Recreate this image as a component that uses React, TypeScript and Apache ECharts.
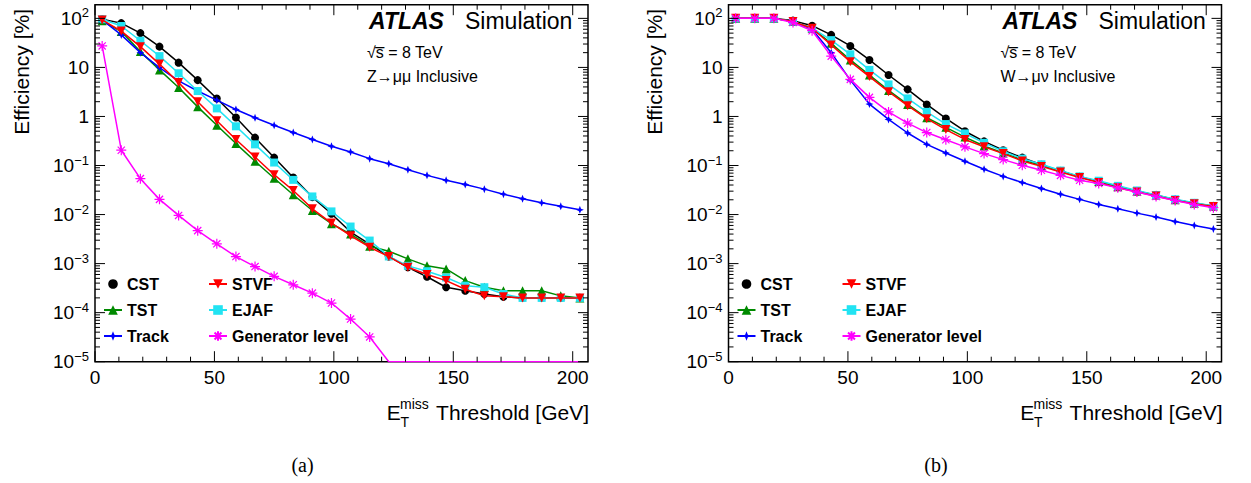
import React, { useEffect, useRef } from 'react';
import * as echarts from 'echarts';

// ---------- data ----------
const THRESHOLDS = [3, 11, 19, 27, 35, 43, 51, 59, 67, 75, 83, 91, 99, 107, 115, 123, 131, 139, 147, 155, 163, 171, 179, 187, 195, 203];

// (a) Z -> mumu inclusive
const CST_Z = [96, 80, 50, 26.5, 12.5, 5.5, 2.33, 0.95, 0.37, 0.145, 0.057, 0.0227, 0.0104, 0.0044, 0.0025, 0.0014, 0.00084, 0.00054, 0.00033, 0.00028, 0.00024, 0.00021, 0.0002, 0.0002, 0.0002, 0.0002];
const TST_Z = [89, 54, 21, 8.9, 3.9, 1.57, 0.66, 0.28, 0.122, 0.055, 0.0254, 0.0121, 0.0065, 0.004, 0.00226, 0.00179, 0.00125, 0.0009, 0.00078, 0.00045, 0.00033, 0.00028, 0.00028, 0.00028, 0.00022, 0.0002];
const TRACK_Z = [93, 46, 20, 9.9, 5.3, 3.3, 2.15, 1.39, 0.94, 0.66, 0.47, 0.34, 0.247, 0.189, 0.138, 0.109, 0.082, 0.063, 0.05, 0.041, 0.033, 0.026, 0.021, 0.0174, 0.0147, 0.0125];
const EJAF_Z = [96, 70, 35, 17, 7.6, 3.3, 1.46, 0.63, 0.27, 0.115, 0.051, 0.0234, 0.0116, 0.0057, 0.00295, 0.0014, 0.0009, 0.0007, 0.00052, 0.000355, 0.00033, 0.00024, 0.0002, 0.0002, 0.0002, 0.0002];
const STVF_Z = [93, 55, 26.5, 11.7, 4.9, 2.0, 0.82, 0.34, 0.149, 0.065, 0.031, 0.0131, 0.0067, 0.0037, 0.00216, 0.00139, 0.00084, 0.0006, 0.00045, 0.0003, 0.00022, 0.00021, 0.0002, 0.0002, 0.0002, 0.0002];
const GEN_Z = [27.4, 0.205, 0.054, 0.0204, 0.0096, 0.0047, 0.00253, 0.00139, 0.00087, 0.00055, 0.00037, 0.00025, 0.000157, 0.000074, 0.000032, 0, 0, 0, 0, 0, 0, 0, 0, 0, 0, 0];

// (b) W -> munu inclusive
const CST_W = [100, 100, 100, 90, 71, 46, 27.4, 14.2, 7.0, 3.57, 1.76, 0.91, 0.5, 0.31, 0.205, 0.145, 0.104, 0.077, 0.058, 0.0475, 0.0376, 0.03, 0.0246, 0.0201, 0.0171, 0.0146];
const TST_W = [100, 100, 100, 86, 63, 31, 14.2, 7.0, 3.4, 1.76, 0.94, 0.6, 0.38, 0.25, 0.18, 0.13, 0.1, 0.077, 0.059, 0.047, 0.037, 0.03, 0.025, 0.02, 0.017, 0.015];
const TRACK_W = [100, 100, 100, 86, 60, 20, 5.5, 1.79, 0.87, 0.46, 0.27, 0.18, 0.122, 0.084, 0.06, 0.045, 0.034, 0.026, 0.0204, 0.0161, 0.0131, 0.0107, 0.0089, 0.0072, 0.006, 0.0051];
const EJAF_W = [100, 100, 100, 86, 63, 36, 18.5, 8.9, 4.5, 2.33, 1.24, 0.7, 0.45, 0.29, 0.195, 0.138, 0.106, 0.079, 0.06, 0.049, 0.0385, 0.031, 0.025, 0.0205, 0.0174, 0.015];
const STVF_W = [100, 100, 100, 86, 63, 28.7, 13.1, 6.5, 3.2, 1.66, 0.9, 0.54, 0.34, 0.24, 0.175, 0.124, 0.096, 0.074, 0.057, 0.045, 0.035, 0.0287, 0.0238, 0.0194, 0.0166, 0.0146];
const GEN_W = [100, 100, 100, 82, 56, 17, 5.7, 2.45, 1.24, 0.73, 0.47, 0.335, 0.24, 0.175, 0.132, 0.101, 0.08, 0.063, 0.05, 0.043, 0.035, 0.0287, 0.0234, 0.0194, 0.016, 0.0138];

const SERIES_NAMES = ['CST', 'TST', 'Track', 'EJAF', 'STVF', 'Generator level'];
const PANEL_DATA = [
  [CST_Z, TST_Z, TRACK_Z, EJAF_Z, STVF_Z, GEN_Z],
  [CST_W, TST_W, TRACK_W, EJAF_W, STVF_W, GEN_W],
];
const PROCESS_LABELS = ['Z\u2192\u03bc\u03bc Inclusive', 'W\u2192\u03bc\u03bd Inclusive'];
const CAPTIONS = ['(a)', '(b)'];

// axis configuration
const X_MIN = 0;
const X_MAX = 206.4;
const Y_MIN = 1e-5;
const Y_MAX = 190;
const X_MAJOR_TICKS = [0, 50, 100, 150, 200];
const X_MINOR_TICKS = [10, 20, 30, 40, 60, 70, 80, 90, 110, 120, 130, 140, 160, 170, 180, 190];
const Y_DECADES = [1e-5, 1e-4, 1e-3, 1e-2, 1e-1, 1, 10, 100];
const Y_SUBDIV = [2, 3, 4, 5, 6, 7, 8, 9];

// ---------- styles / layout ----------
const FONT = "'Liberation Sans', Arial, Helvetica, sans-serif";
const GRID_LEFT = [95, 728.5];
const GRID_TOP = 4.7;
const GRID_W = 493;
const GRID_H = 357;
const PANEL_DX = 633.5;

const STAR4 = 'path://M0,-6 L1.7,-1.7 L6,0 L1.7,1.7 L0,6 L-1.7,1.7 L-6,0 L-1.7,-1.7 Z';
const ASTER = 'path://M0,-5 L0,5 M-5,0 L5,0 M-3.6,-3.6 L3.6,3.6 M-3.6,3.6 L3.6,-3.6';

const STYLE: Record<string, any> = {
  CST: { color: '#000000', symbol: 'circle', size: 8, rotate: 0, stroke: 0 },
  TST: { color: '#008a00', symbol: 'triangle', size: 9, rotate: 0, stroke: 0 },
  Track: { color: '#0000ff', symbol: STAR4, size: 8, rotate: 0, stroke: 0 },
  EJAF: { color: '#22e3f2', symbol: 'rect', size: 8, rotate: 0, stroke: 0 },
  STVF: { color: '#ff0000', symbol: 'triangle', size: 9, rotate: 180, stroke: 0 },
  'Generator level': { color: '#ff00ff', symbol: ASTER, size: 10, rotate: 0, stroke: 1.2 },
};

function logLabel(v: number): string {
  const l = Math.log10(v);
  const e = Math.round(l);
  if (Math.abs(l - e) > 1e-6) return '';
  if (e === 0) return '{b|1}';
  if (e === 1) return '{b|10}';
  const s = e < 0 ? '\u2212' + String(-e) : String(e);
  return '{b|10}{s|' + s + '}';
}

function tickData(): number[][] {
  const out: number[][] = [];
  X_MAJOR_TICKS.forEach((x) => { out.push([x, Y_MIN, 0, 10.5]); out.push([x, Y_MIN, 1, 10.5]); });
  X_MINOR_TICKS.forEach((x) => { out.push([x, Y_MIN, 0, 5]); out.push([x, Y_MIN, 1, 5]); });
  Y_DECADES.forEach((d) => {
    out.push([X_MIN, d, 2, 10]); out.push([X_MIN, d, 3, 10]);
    Y_SUBDIV.forEach((m) => {
      const v = d * m;
      if (v < Y_MAX) { out.push([X_MIN, v, 2, 5]); out.push([X_MIN, v, 3, 5]); }
    });
  });
  return out;
}

function buildOption(): any {
  const grids = [0, 1].map((p) => ({
    left: GRID_LEFT[p], top: GRID_TOP, width: GRID_W, height: GRID_H,
    show: true, borderColor: '#000', borderWidth: 1.5, backgroundColor: 'transparent',
  }));
  const xAxes = [0, 1].map((p) => ({
    gridIndex: p, type: 'value', min: X_MIN, max: X_MAX, interval: 50,
    axisLine: { show: false }, axisTick: { show: false }, splitLine: { show: false },
    axisLabel: {
      margin: 6, color: '#000', fontFamily: FONT, fontSize: 19,
      formatter: (v: number) => (Math.abs(v % 50) < 1e-9 ? String(v) : ''),
    },
  }));
  const yAxes = [0, 1].map((p) => ({
    gridIndex: p, type: 'log', logBase: 10, min: Y_MIN, max: Y_MAX, splitNumber: 7,
    axisLine: { show: false }, axisTick: { show: false }, splitLine: { show: false },
    axisLabel: {
      margin: 6, formatter: logLabel,
      rich: {
        b: { fontFamily: FONT, fontSize: 19, lineHeight: 24, color: '#000' },
        s: { fontFamily: FONT, fontSize: 13, lineHeight: 12, verticalAlign: 'top', color: '#000' },
      },
    },
  }));

  const series: any[] = [];
  [0, 1].forEach((p) => {
    SERIES_NAMES.forEach((name, i) => {
      const st = STYLE[name];
      const vals = PANEL_DATA[p][i];
      const data = THRESHOLDS.map((x, k) => {
        const v = vals[k];
        return v > 0 ? { value: [x, v] } : { value: [x, Y_MIN], symbol: 'none' };
      });
      series.push({
        type: 'line', name, xAxisIndex: p, yAxisIndex: p, data,
        symbol: st.symbol, symbolSize: st.size, symbolRotate: st.rotate, showAllSymbol: true,
        lineStyle: { color: st.color, width: 1.5 },
        itemStyle: { color: st.color, borderColor: st.color, borderWidth: st.stroke },
        emphasis: { disabled: true }, z: 2 + i,
      });
    });
    series.push({
      type: 'custom', xAxisIndex: p, yAxisIndex: p, silent: true, z: 20, clip: false,
      data: tickData(), encode: { x: 0, y: 1 },
      renderItem: (params: any, api: any) => {
        const cs = params.coordSys;
        const pt = api.coord([api.value(0), api.value(1)]);
        const side = api.value(2);
        const len = api.value(3);
        let x1 = 0, y1 = 0, x2 = 0, y2 = 0;
        if (side === 0) { x1 = x2 = pt[0]; y1 = cs.y + cs.height; y2 = y1 - len; }
        else if (side === 1) { x1 = x2 = pt[0]; y1 = cs.y; y2 = y1 + len; }
        else if (side === 2) { y1 = y2 = pt[1]; x1 = cs.x; x2 = x1 + len; }
        else { y1 = y2 = pt[1]; x1 = cs.x + cs.width; x2 = x1 - len; }
        return { type: 'line', shape: { x1, y1, x2, y2 }, style: { stroke: '#000', lineWidth: 1 } };
      },
    });
  });

  const legendText = { fontFamily: FONT, fontSize: 16, fontWeight: 'bold', color: '#000', lineHeight: 16 };
  const legends: any[] = [];
  [0, 1].forEach((p) => {
    const dx = p * PANEL_DX;
    legends.push({
      orient: 'vertical', left: 103 + dx, top: 276, padding: 0, itemWidth: 18, itemHeight: 12, itemGap: 10,
      selectedMode: false, textStyle: legendText,
      data: [{ name: 'CST', lineStyle: { opacity: 0 } }, 'TST', 'Track'],
    });
    legends.push({
      orient: 'vertical', left: 208 + dx, top: 276, padding: 0, itemWidth: 18, itemHeight: 12, itemGap: 10,
      selectedMode: false, textStyle: legendText,
      data: ['STVF', 'EJAF', 'Generator level'],
    });
  });

  const txt = (x: number, y: number, text: string, size: number, extra: any = {}, el: any = {}) => ({
    type: 'text', x, y, silent: true, ...el,
    style: { text, fill: '#000', fontFamily: FONT, fontSize: size, textAlign: 'left', textVerticalAlign: 'middle', ...extra },
  });

  const graphics: any[] = [];
  [0, 1].forEach((p) => {
    const dx = p * PANEL_DX;
    graphics.push(txt(369 + dx, 21, 'ATLAS', 23, { fontWeight: 'bold', fontStyle: 'italic' }));
    graphics.push(txt(465 + dx, 21, 'Simulation', 23));
    graphics.push(txt(367 + dx, 52.5, '\u221as\u0305 = 8 TeV', 16));
    graphics.push(txt(367 + dx, 76, PROCESS_LABELS[p], 16));
    // y-axis title
    graphics.push(txt(21 + dx, 9, 'Efficiency [%]', 21, { textAlign: 'right' }, { rotation: Math.PI / 2 }));
    // x-axis title
    graphics.push(txt(386.7 + dx, 412.7, 'E', 21));
    graphics.push(txt(400 + dx, 403.5, 'miss', 14));
    graphics.push(txt(400.5 + dx, 421.5, 'T', 14));
    graphics.push(txt(589 + dx, 412.7, 'Threshold [GeV]', 21, { textAlign: 'right' }));
    // caption
    graphics.push({
      type: 'text', x: 302.5 + dx, y: 465, silent: true,
      style: { text: CAPTIONS[p], fill: '#000', fontFamily: "'Liberation Serif', 'Times New Roman', serif", fontSize: 20, textAlign: 'center', textVerticalAlign: 'middle' },
    });
  });

  return {
    animation: false,
    backgroundColor: '#ffffff',
    grid: grids,
    xAxis: xAxes,
    yAxis: yAxes,
    legend: legends,
    series,
    graphic: graphics,
  };
}

export default function App() {
  const ref = useRef<HTMLDivElement>(null);
  useEffect(() => {
    if (!ref.current) return;
    const chart = echarts.init(ref.current, null, { renderer: 'svg' });
    chart.setOption(buildOption());
    return () => chart.dispose();
  }, []);
  return (
    <div
      ref={ref}
      style={{ position: 'absolute', left: 0, top: 0, width: 1251, height: 483, background: '#fff' }}
    />
  );
}
